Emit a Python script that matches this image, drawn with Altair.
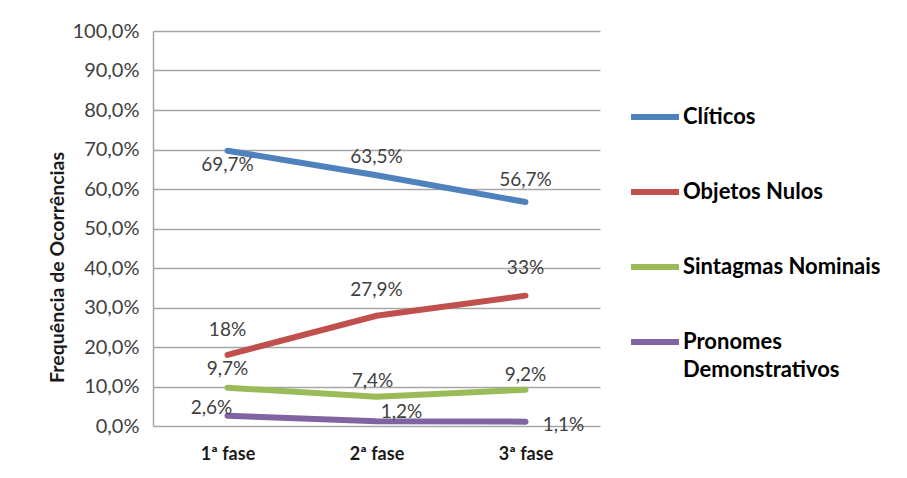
import altair as alt
import pandas as pd

phases = ["1ª fase", "2ª fase", "3ª fase"]
series = ["Clíticos", "Objetos Nulos", "Sintagmas Nominais", "Pronomes Demonstrativos"]
colors = ["#4F81BD", "#C0504D", "#9BBB59", "#8064A2"]

cliticos = [69.7, 63.5, 56.7]
objetos_nulos = [18.0, 27.9, 33.0]
sintagmas = [9.7, 7.4, 9.2]
pronomes = [2.6, 1.2, 1.1]

label_cliticos = ["69,7%", "63,5%", "56,7%"]
label_objetos = ["18%", "27,9%", "33%"]
label_sintagmas = ["9,7%", "7,4%", "9,2%"]
label_pronomes = ["2,6%", "1,2%", "1,1%"]

y_ticks = [0, 10, 20, 30, 40, 50, 60, 70, 80, 90, 100]

values = [cliticos, objetos_nulos, sintagmas, pronomes]
labels = [label_cliticos, label_objetos, label_sintagmas, label_pronomes]

rows = []
for s, vals, labs in zip(series, values, labels):
    for i, (p, v, l) in enumerate(zip(phases, vals, labs)):
        rows.append({"serie": s, "fase": p, "idx": i, "valor": v, "rotulo": l})
df = pd.DataFrame(rows)

# label offsets (style only): (dx, dy) per series / phase index
offsets = {
    ("Clíticos", 0): (0, 14), ("Clíticos", 1): (0, -18), ("Clíticos", 2): (0, -22),
    ("Objetos Nulos", 0): (0, -25), ("Objetos Nulos", 1): (0, -26), ("Objetos Nulos", 2): (0, -28),
    ("Sintagmas Nominais", 0): (0, -19), ("Sintagmas Nominais", 1): (-4, -16), ("Sintagmas Nominais", 2): (0, -15),
    ("Pronomes Demonstrativos", 0): (-16, -8), ("Pronomes Demonstrativos", 1): (25, -9),
    ("Pronomes Demonstrativos", 2): (38, 3),
}

FONT = "Lato"

x_enc = alt.X("fase:N", sort=phases, title=None,
              scale=alt.Scale(paddingInner=0, paddingOuter=0.5),
              axis=alt.Axis(labelAngle=0, labelFontWeight="bold", labelFontSize=18,
                            labelColor="#1a1a1a", labelPadding=19, ticks=False,
                            domain=False, labelFont=FONT))
y_enc = alt.Y("valor:Q", title="Frequência de Ocorrências",
              scale=alt.Scale(domain=[0, 100], nice=False),
              axis=alt.Axis(values=y_ticks, labelOverlap=False,
                            labelExpr="replace(format(datum.value, '.1f'), '.', ',') + '%'",
                            labelFontSize=20, labelColor="#404040", labelPadding=14,
                            labelFont=FONT, ticks=False,
                            domain=True, domainColor="#a6a6a6", domainWidth=1.5,
                            grid=True, gridColor="#a6a6a6", gridWidth=1.5,
                            titleFont=FONT, titleFontSize=19.5, titleFontWeight="bold",
                            titleColor="#1a1a1a", titleX=-96, titleY=236,
                            titleAngle=270, titleAlign="center", titleBaseline="middle"))

lines = alt.Chart(df).mark_line(strokeWidth=6, strokeCap="round").encode(
    x=x_enc, y=y_enc,
    color=alt.Color("serie:N", sort=series,
                    scale=alt.Scale(domain=series, range=colors),
                    legend=alt.Legend(title=None, orient="none", legendX=475, legendY=59,
                                      symbolType="stroke", symbolSize=2300,
                                      symbolStrokeWidth=6, labelFontSize=22,
                                      labelFontWeight="bold", labelFont=FONT,
                                      labelColor="#000000", rowPadding=36,
                                      labelOffset=1, labelLimit=300,
                                      labelExpr="datum.label == 'Pronomes Demonstrativos' ? ['Pronomes', 'Demonstrativos'] : datum.label")),
    detail="serie:N",
)

text_layers = []
for (s, i), (dx, dy) in offsets.items():
    t = alt.Chart(df).transform_filter(
        (alt.datum.serie == s) & (alt.datum.idx == i)
    ).mark_text(dx=dx, dy=dy, fontSize=19, font=FONT, color="#404040").encode(
        x=x_enc, y=y_enc, text="rotulo:N")
    text_layers.append(t)

chart = alt.layer(lines, *text_layers).properties(
    width=447, height=395,
    autosize=alt.AutoSizeParams(type="none"),
    padding={"left": 145, "top": 23, "right": 290, "bottom": 40},
).configure(
    view={"stroke": None},
    style={"guide-label": {"lineHeight": 28}},
)

chart.save("out.html", embed_options={"renderer": "svg", "actions": False})
